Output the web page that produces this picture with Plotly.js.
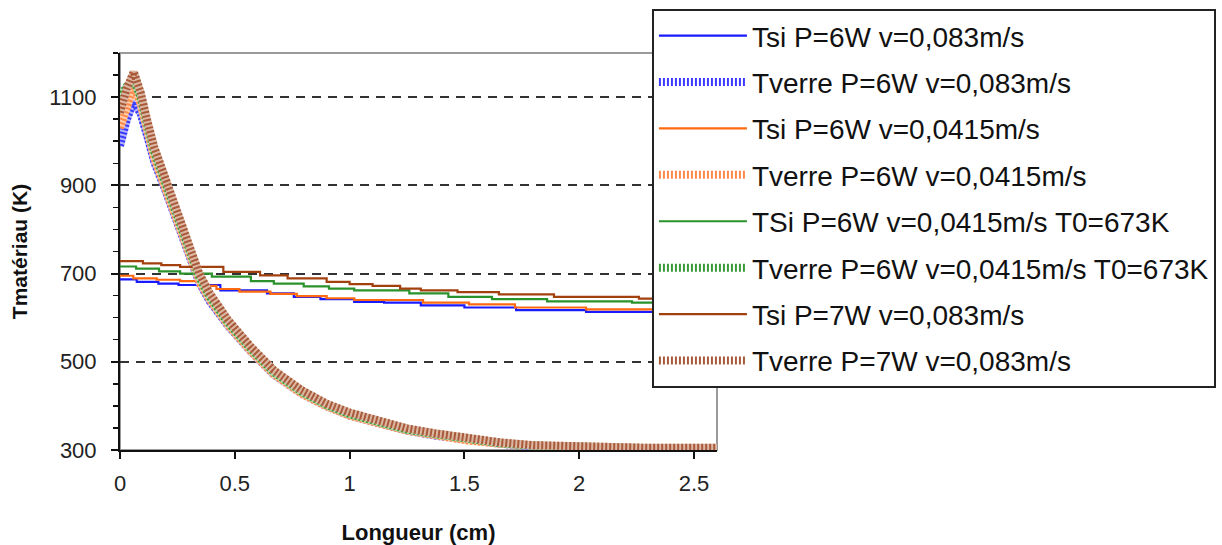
<!DOCTYPE html>
<html>
<head>
<meta charset="utf-8">
<script src="https://cdn.plot.ly/plotly-3.0.1.min.js"></script>
<style>html,body{margin:0;padding:0;background:#fff;}#chart{width:1222px;height:545px;}</style>
</head>
<body>
<div id="chart"></div>
<script>
// ---- data ----
var seriesNames = [
  "Tsi P=6W v=0,083m/s",
  "Tverre P=6W v=0,083m/s",
  "Tsi P=6W v=0,0415m/s",
  "Tverre P=6W v=0,0415m/s",
  "TSi P=6W v=0,0415m/s T0=673K",
  "Tverre P=6W v=0,0415m/s T0=673K",
  "Tsi P=7W v=0,083m/s",
  "Tverre P=7W v=0,083m/s"
];

var xTsiBlue = [0,0.073,0.167,0.255,0.437,0.64,0.757,0.873,1.02,1.15,1.31,1.5,1.725,2.03,2.6];
var tTsiBlue = [687,681,677,674,662,655,647,642,636,634,628,623,617,613,613];

var xTsiOrange = [0,0.058,0.16,0.262,0.34,0.42,0.52,0.655,0.77,0.9,1.02,1.32,1.52,1.72,2.03,2.6];
var tTsiOrange = [695,689,686,683,672,665,659,654,649,644,640,634,630,623,619,619];

var xTsiGreen = [0,0.07,0.17,0.262,0.4,0.57,0.67,0.8,0.91,1.02,1.26,1.43,1.62,1.86,2.23,2.6];
var tTsiGreen = [716,711,705,700,693,683,677,671,666,662,655,647,642,637,634,634];

var xTsiBrown = [0,0.1,0.18,0.262,0.45,0.61,0.73,0.9,1.0,1.1,1.22,1.31,1.47,1.65,1.89,2.26,2.6];
var tTsiBrown = [728,723,719,715,704,696,689,681,676,672,666,662,658,653,647,643,643];

var xVerre = [0,0.03,0.06,0.09,0.12,0.15,0.19,0.23,0.27,0.31,0.345,0.39,0.47,0.57,0.67,0.79,0.9,1.0,1.12,1.25,1.37,1.51,1.66,1.8,2.02,2.3,2.6];
var tVerreBlue   = [990,1050,1090,1062,1010,952,900,842,782,727,680,638,582,523,471,428,399,378,360,344,333,322,314,309,305,303,303];
var tVerreOrange = [1030,1085,1125,1085,1020,962,905,845,787,732,684,642,584,524,472,428,399,378,360,344,334,322,314,309,305,303,303];
var tVerreGreen  = [1100,1125,1138,1100,1035,975,917,857,797,741,692,648,589,529,476,432,402,381,363,346,336,324,315,310,306,304,304];
var tVerreBrown  = [1065,1120,1157,1110,1044,985,927,866,806,750,700,656,595,534,481,436,405,385,366,349,338,326,317,311,307,305,305];

var xTickVals = [0,0.5,1,1.5,2,2.5];
var xTickText = ["0","0.5","1","1.5","2","2.5"];
var yTickVals = [300,500,700,900,1100];
var yTickText = ["300","500","700","900","1100"];

// ---- styles ----
var tsiColors   = ["#1a1aff","#ff6a10","#2a922a","#a2400e"];
var verreColors = ["#3b3bff","#ff8a4a","#3a9a3a","#a85a3a"];
var verreTints  = ["#b4b4ff","#ffcba8","#b4dcb4","#dcb8a4"];

var tsiData = [[xTsiBlue,tTsiBlue],[xTsiOrange,tTsiOrange],[xTsiGreen,tTsiGreen],[xTsiBrown,tTsiBrown]];
var verreData = [tVerreBlue,tVerreOrange,tVerreGreen,tVerreBrown];

var traces = [];
for (var i = 0; i < 4; i++) {
  traces.push({
    x: tsiData[i][0], y: tsiData[i][1], type: "scatter", mode: "lines",
    name: seriesNames[2*i], legendgroup: "g" + (2*i),
    line: {color: tsiColors[i], width: 2.2, shape: "hv"},
    hoverinfo: "skip"
  });
  traces.push({
    x: xVerre, y: verreData[i], type: "scatter", mode: "lines",
    name: seriesNames[2*i+1] + " fond", legendgroup: "g" + (2*i+1), showlegend: false,
    line: {color: verreTints[i], width: 8},
    hoverinfo: "skip"
  });
  traces.push({
    x: xVerre, y: verreData[i], type: "scatter", mode: "lines",
    name: seriesNames[2*i+1], legendgroup: "g" + (2*i+1),
    line: {color: verreColors[i], width: 8, dash: "2px,2px"},
    hoverinfo: "skip"
  });
}

var fontFam = "Liberation Sans, Arial, sans-serif";

var layout = {
  width: 1222, height: 545,
  paper_bgcolor: "#ffffff", plot_bgcolor: "#ffffff",
  margin: {l: 120, r: 505, t: 53, b: 95, pad: 0, autoexpand: false},
  showlegend: true,
  font: {family: fontFam, color: "#111"},
  xaxis: {
    range: [0, 2.6], tickmode: "array", tickvals: xTickVals, ticktext: xTickText,
    showgrid: false, zeroline: false, showline: true, linecolor: "#111", linewidth: 2,
    ticks: "outside", ticklen: 7, tickwidth: 2, tickcolor: "#111",
    tickfont: {family: fontFam, size: 22, color: "#222"},
    ticklabelstandoff: 6,
    title: {text: "<b>Longueur (cm)</b>", font: {family: fontFam, size: 22, color: "#111"}, standoff: 29},
    automargin: false, fixedrange: true
  },
  yaxis: {
    range: [300, 1200], tickmode: "array", tickvals: yTickVals, ticktext: yTickText,
    showgrid: true, gridcolor: "#333", gridwidth: 2, griddash: "9px,7px",
    zeroline: false, showline: true, linecolor: "#111", linewidth: 2,
    ticks: "outside", ticklen: 7, tickwidth: 2, tickcolor: "#111",
    minor: {dtick: 50, tick0: 300, ticks: "outside", ticklen: 5, tickwidth: 1.5, tickcolor: "#111", showgrid: false},
    tickfont: {family: fontFam, size: 22, color: "#222"},
    ticklabelstandoff: 10,
    title: {text: "<b>Tmatériau (K)</b>", font: {family: fontFam, size: 21, color: "#111"}, standoff: 16},
    automargin: false, fixedrange: true
  },
  shapes: [
    {type: "rect", xref: "paper", yref: "paper", x0: 0, x1: 1, y0: 0, y1: 1,
     line: {color: "#9a9a9a", width: 2}, layer: "below"}
  ],
  legend: {
    xref: "paper", x: 0.891, xanchor: "left",
    yref: "paper", y: 1.111, yanchor: "top",
    maxheight: 540,
    bgcolor: "#ffffff", bordercolor: "#222", borderwidth: 2,
    font: {family: fontFam, size: 28, color: "#111"},
    itemwidth: 88, tracegroupgap: 7, traceorder: "grouped",
    itemclick: false, itemdoubleclick: false
  }
};

Plotly.newPlot("chart", traces, layout, {staticPlot: true, displayModeBar: false});
</script>
</body>
</html>
